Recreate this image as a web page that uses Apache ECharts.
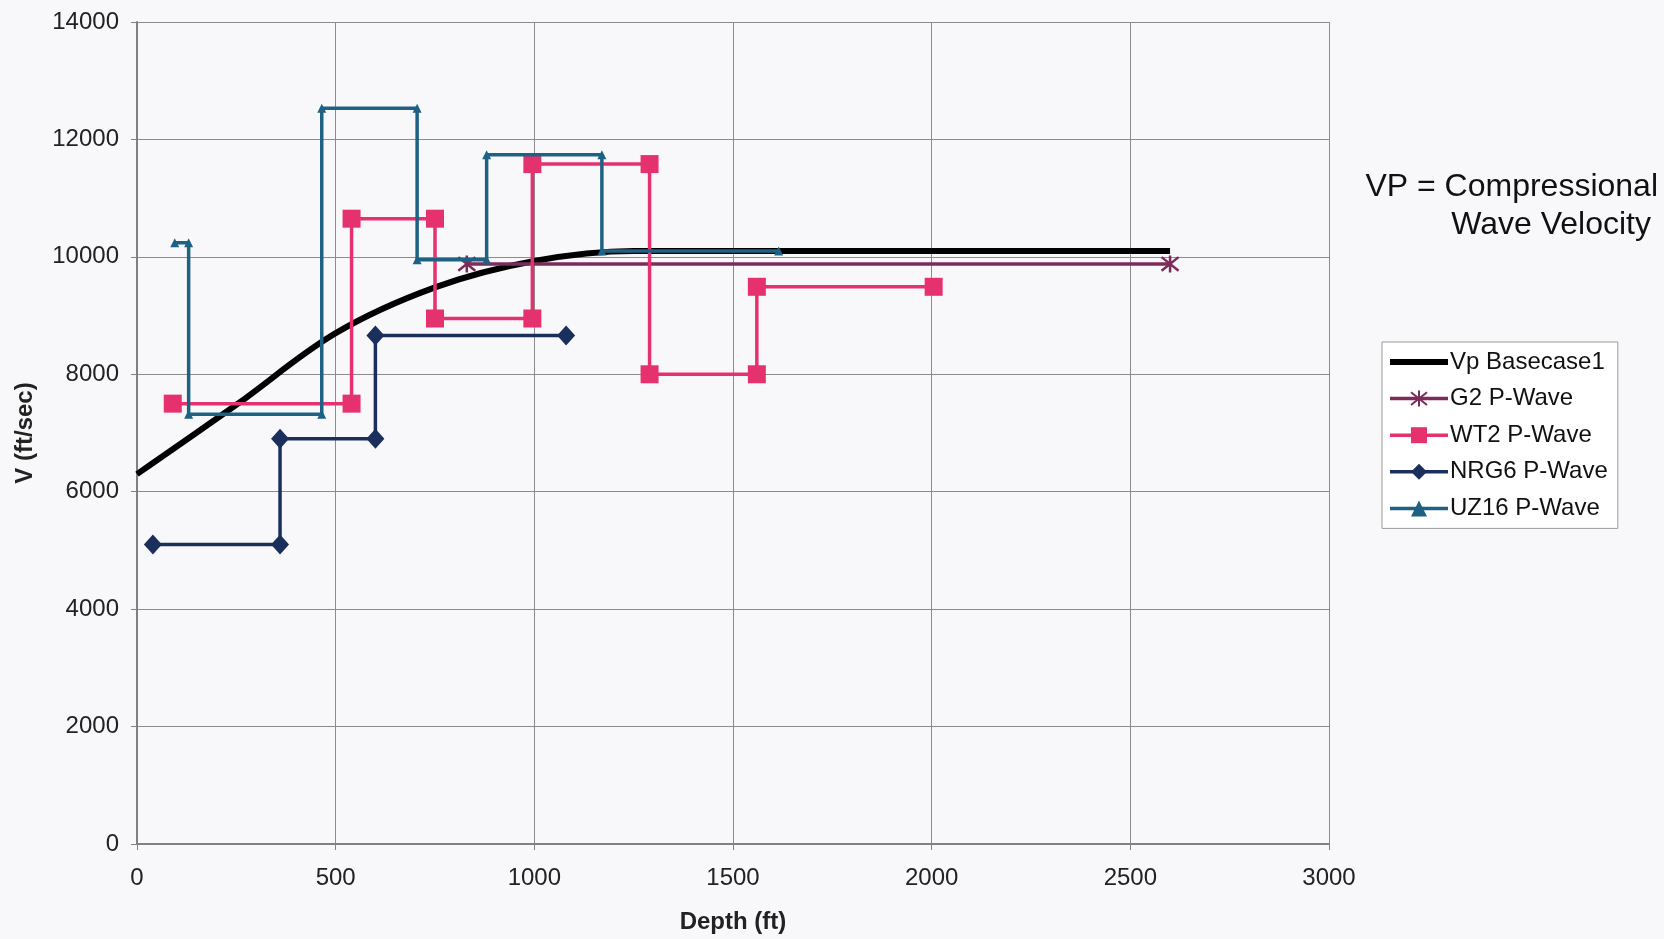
<!DOCTYPE html>
<html>
<head>
<meta charset="utf-8">
<script src="https://cdn.jsdelivr.net/npm/echarts@6/dist/echarts.min.js"></script>
<style>
  html, body { margin: 0; padding: 0; background: #f8f8fa; }
  #chart { width: 1664px; height: 939px; }
</style>
</head>
<body>
<div id="chart"></div>
<script>
// Depth (ft) / velocity (ft/sec) pairs for each profile
const vpBasecase1 = [[0, 6300], [250, 7480], [500, 8700], [750, 9480], [1000, 9930], [1250, 10100], [2600, 10100]];
const g2PWave = [[830, 9880], [2600, 9880]];
const wt2PWave = [[90, 7500], [540, 7500], [540, 10650], [750, 10650], [750, 8950], [995, 8950],
                  [995, 11580], [1290, 11580], [1290, 8000], [1560, 8000], [1560, 9490], [2005, 9490]];
const nrg6PWave = [[40, 5100], [360, 5100], [360, 6900], [600, 6900], [600, 8660], [1080, 8660]];
const uz16PWave = [[95, 10240], [130, 10240], [130, 7320], [465, 7320], [465, 12530], [705, 12530],
                   [705, 9950], [880, 9950], [880, 11740], [1170, 11740], [1170, 10100], [1615, 10100]];

const seriesNames = ['Vp Basecase1', 'G2 P-Wave', 'WT2 P-Wave', 'NRG6 P-Wave', 'UZ16 P-Wave'];
const noteLines = ['VP = Compressional', 'Wave Velocity'];
const xTitle = 'Depth (ft)';
const yTitle = 'V (ft/sec)';

const FONT = "'Liberation Sans', Arial, Helvetica, sans-serif";
const asterisk = 'path://M1,1L9,9M9,1L1,9M5,0L5,10';

const colors = {
  base: '#000000',
  g2: '#7b2c58',
  wt2: '#e5326f',
  nrg6: '#1b2f5c',
  uz16: '#1e6283'
};

const chart = echarts.init(document.getElementById('chart'), null, { renderer: 'canvas' });

chart.setOption({
  animation: false,
  backgroundColor: '#f8f8fa',
  textStyle: { fontFamily: FONT },
  grid: { left: 137, right: 335, top: 22, bottom: 92, containLabel: false },
  xAxis: {
    type: 'value', min: 0, max: 3000, interval: 500,
    name: xTitle, nameLocation: 'middle', nameGap: 66,
    nameTextStyle: { fontFamily: FONT, fontSize: 24, fontWeight: 'bold', color: '#222' },
    axisLine: { show: true, lineStyle: { color: '#808080', width: 2 } },
    axisTick: { show: true, inside: false, length: 6, lineStyle: { color: '#808080' } },
    axisLabel: { fontFamily: FONT, fontSize: 24, color: '#222', margin: 22, formatter: v => String(v) },
    splitLine: { show: true, lineStyle: { color: '#8c8c8c', width: 1 } }
  },
  yAxis: {
    type: 'value', min: 0, max: 14000, interval: 2000,
    name: yTitle, nameLocation: 'middle', nameGap: 100, nameRotate: 90,
    nameTextStyle: { fontFamily: FONT, fontSize: 24, fontWeight: 'bold', color: '#222' },
    axisLine: { show: true, lineStyle: { color: '#808080', width: 2 } },
    axisTick: { show: true, inside: false, length: 6, lineStyle: { color: '#808080' } },
    axisLabel: { fontFamily: FONT, fontSize: 24, color: '#222', margin: 18, formatter: v => String(v) },
    splitLine: { show: true, lineStyle: { color: '#8c8c8c', width: 1 } }
  },
  legend: {
    orient: 'vertical',
    left: 1382, top: 342,
    width: 237,
    padding: [8, 10, 8, 5],
    itemGap: 12.6,
    itemWidth: 58, itemHeight: 20,
    backgroundColor: '#ffffff',
    borderColor: '#9a9a9a', borderWidth: 1,
    textStyle: { fontFamily: FONT, fontSize: 24, color: '#111', padding: [0, 0, 0, -3] },
    data: [
      { name: seriesNames[0], lineStyle: { width: 6, color: colors.base },
        itemStyle: { color: 'rgba(0,0,0,0)', borderWidth: 0 } },
      { name: seriesNames[1], lineStyle: { width: 3.5, color: colors.g2 } },
      { name: seriesNames[2], lineStyle: { width: 3.5, color: colors.wt2 } },
      { name: seriesNames[3], lineStyle: { width: 3.5, color: colors.nrg6 } },
      { name: seriesNames[4], lineStyle: { width: 3.5, color: colors.uz16 } }
    ]
  },
  graphic: [
    { type: 'text', right: 6, top: 171,
      style: { text: noteLines[0], fontFamily: FONT, fontSize: 32, fill: '#111', textAlign: 'right' } },
    { type: 'text', right: 13, top: 209,
      style: { text: noteLines[1], fontFamily: FONT, fontSize: 32, fill: '#111', textAlign: 'right' } }
  ],
  series: [
    {
      name: seriesNames[0], type: 'line', data: vpBasecase1,
      smooth: 0.35, symbol: 'none', z: 2,
      lineStyle: { color: colors.base, width: 6 },
      itemStyle: { color: colors.base }
    },
    {
      name: seriesNames[1], type: 'line', data: g2PWave,
      symbol: asterisk, symbolSize: 17, z: 3,
      lineStyle: { color: colors.g2, width: 3.5 },
      itemStyle: { color: 'rgba(0,0,0,0)', borderColor: colors.g2, borderWidth: 2.5 }
    },
    {
      name: seriesNames[2], type: 'line', data: wt2PWave,
      symbol: 'rect', symbolSize: 18, z: 4,
      lineStyle: { color: colors.wt2, width: 3.5 },
      itemStyle: { color: colors.wt2 }
    },
    {
      name: seriesNames[3], type: 'line', data: nrg6PWave,
      symbol: 'diamond', symbolSize: [18, 20], z: 5,
      lineStyle: { color: colors.nrg6, width: 3.5 },
      itemStyle: { color: colors.nrg6 }
    },
    {
      name: seriesNames[4], type: 'line', data: uz16PWave,
      symbol: 'triangle', symbolSize: 9, z: 6,
      lineStyle: { color: colors.uz16, width: 3.5 },
      itemStyle: { color: colors.uz16 }
    }
  ]
});
</script>
</body>
</html>
